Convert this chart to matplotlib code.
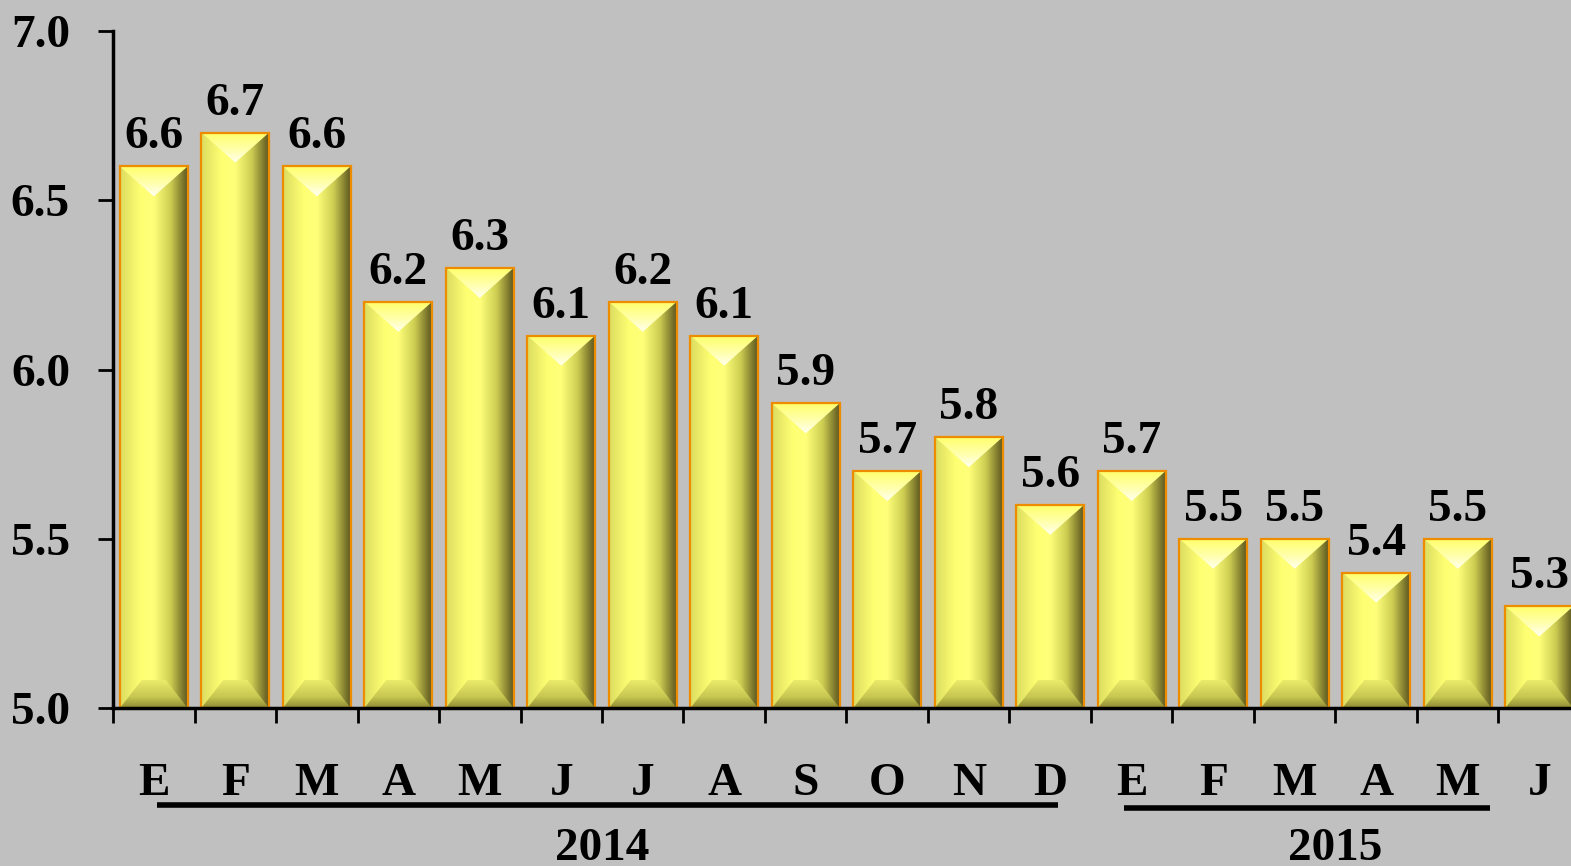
import numpy as np
from matplotlib import pyplot as plt
from matplotlib.patches import Polygon, Rectangle
from matplotlib.colors import LinearSegmentedColormap

months = ['E', 'F', 'M', 'A', 'M', 'J', 'J', 'A', 'S', 'O', 'N', 'D',
          'E', 'F', 'M', 'A', 'M', 'J']
values = [6.6, 6.7, 6.6, 6.2, 6.3, 6.1, 6.2, 6.1, 5.9, 5.7, 5.8, 5.6,
          5.7, 5.5, 5.5, 5.4, 5.5, 5.3]
years = ['2014', '2015']
year_spans = [(0, 11), (12, 17)]
yticks = [5.0, 5.5, 6.0, 6.5, 7.0]

W, H = 1571, 866
BG = '#c0c0c0'
FONT = ['Liberation Serif', 'DejaVu Serif']

plt.rcParams['font.family'] = FONT
plt.rcParams['font.weight'] = 'bold'

fig = plt.figure(figsize=(W / 100, H / 100), dpi=100, facecolor=BG)
ax = fig.add_axes([113 / W, 1 - 708 / H, (W - 113) / W, (708 - 31) / H])
ax.set_facecolor(BG)

px_x = 81.5            # pixels per category
px_y = 677 / 2.0       # pixels per y unit
ax.set_xlim(-0.5, -0.5 + (W - 113) / px_x)
ax.set_ylim(5.0, 7.0)

# colour ramps for the bevelled bars
body = LinearSegmentedColormap.from_list('body', [
    (0.00, (0.86, 0.86, 0.38)), (0.30, (1.0, 1.0, 0.45)),
    (0.50, (1.0, 1.0, 0.48)), (0.75, (0.80, 0.80, 0.32)),
    (0.92, (0.50, 0.48, 0.18)), (1.00, (0.36, 0.34, 0.12))])
top_cm = LinearSegmentedColormap.from_list('top', [
    (0.0, (1.0, 1.0, 0.42)), (0.6, (1.0, 1.0, 0.70)), (1.0, (1.0, 1.0, 0.95))])
bot_cm = LinearSegmentedColormap.from_list('bot', [
    (0.0, (0.92, 0.92, 0.42)), (0.6, (0.78, 0.78, 0.32)), (1.0, (0.55, 0.54, 0.20))])

bw = 0.83
hw = bw / 2
tb = 30 / px_y          # top bevel depth
bb = 28 / px_y          # bottom bevel depth
bflat = 12 / px_x       # half width of flat part of bottom bevel
grad_x = np.linspace(0, 1, 256).reshape(1, -1)
grad_y = np.linspace(0, 1, 256).reshape(-1, 1)

for i, v in enumerate(values):
    l, r = i - hw, i + hw
    rect = Rectangle((l, 5.0), bw, v - 5.0, transform=ax.transData)
    im = ax.imshow(grad_x, cmap=body, extent=[l, r, 5.0, v], aspect='auto',
                   zorder=2, interpolation='bicubic')
    im.set_clip_path(rect)

    tri = Polygon([(l, v), (r, v), (i, v - tb)], closed=True, transform=ax.transData)
    im = ax.imshow(grad_y, cmap=top_cm, extent=[l, r, v - tb, v], aspect='auto',
                   origin='upper', zorder=3, interpolation='bicubic')
    im.set_clip_path(tri)

    trap = Polygon([(l, 5.0), (r, 5.0), (i + bflat, 5.0 + bb), (i - bflat, 5.0 + bb)],
                   closed=True, transform=ax.transData)
    im = ax.imshow(grad_y, cmap=bot_cm, extent=[l, r, 5.0, 5.0 + bb], aspect='auto',
                   origin='upper', zorder=3, interpolation='bicubic')
    im.set_clip_path(trap)

    ax.add_patch(Rectangle((l, 5.0), bw, v - 5.0, fill=False, edgecolor='#ee8c00',
                           linewidth=1.6, zorder=4))
    ax.annotate(f'{v:.1f}', (i, v), xytext=(0, 18), textcoords='offset pixels',
                ha='center', va='baseline', fontsize=34, fontweight='bold',
                family=FONT, annotation_clip=False)

ax.set_ylim(5.0, 7.0)
ax.set_xlim(-0.5, -0.5 + (W - 113) / px_x)

# axes, ticks
for s in ['top', 'right']:
    ax.spines[s].set_visible(False)
ax.spines['left'].set_linewidth(2.5)
ax.spines['bottom'].set_linewidth(2.5)
ax.spines['left'].set_zorder(5)
ax.spines['bottom'].set_zorder(5)

ax.set_yticks(yticks)
ax.set_yticklabels([f'{t:.1f}' for t in yticks], fontsize=34, fontweight='bold')
ax.tick_params(axis='y', length=11, width=2, pad=20)

ax.set_xticks(np.arange(len(months)) - 0.5)
ax.set_xticklabels([])
ax.tick_params(axis='x', length=11, width=2)

xt = ax.get_xaxis_transform()
for i, m in enumerate(months):
    ax.text(i, -(795 - 708) / 677, m, transform=xt, ha='center', va='baseline',
            fontsize=34, fontweight='bold', clip_on=False)

underline_y = [-(805 - 708) / 677, -(808 - 708) / 677]
underline_x = [(0.04, 11.1), (11.9, 16.4)]
for (a, b), (x0, x1), yl, yr in zip(year_spans, underline_x, underline_y, years):
    ax.plot([x0, x1], [yl, yl], transform=xt, color='black', lw=4, clip_on=False,
            solid_capstyle='butt')
    ax.text((a + b) / 2, -(860 - 708) / 677, yr, transform=xt, ha='center',
            va='baseline', fontsize=34, fontweight='bold', clip_on=False)

fig.savefig('out.png', dpi=100, facecolor=BG)
